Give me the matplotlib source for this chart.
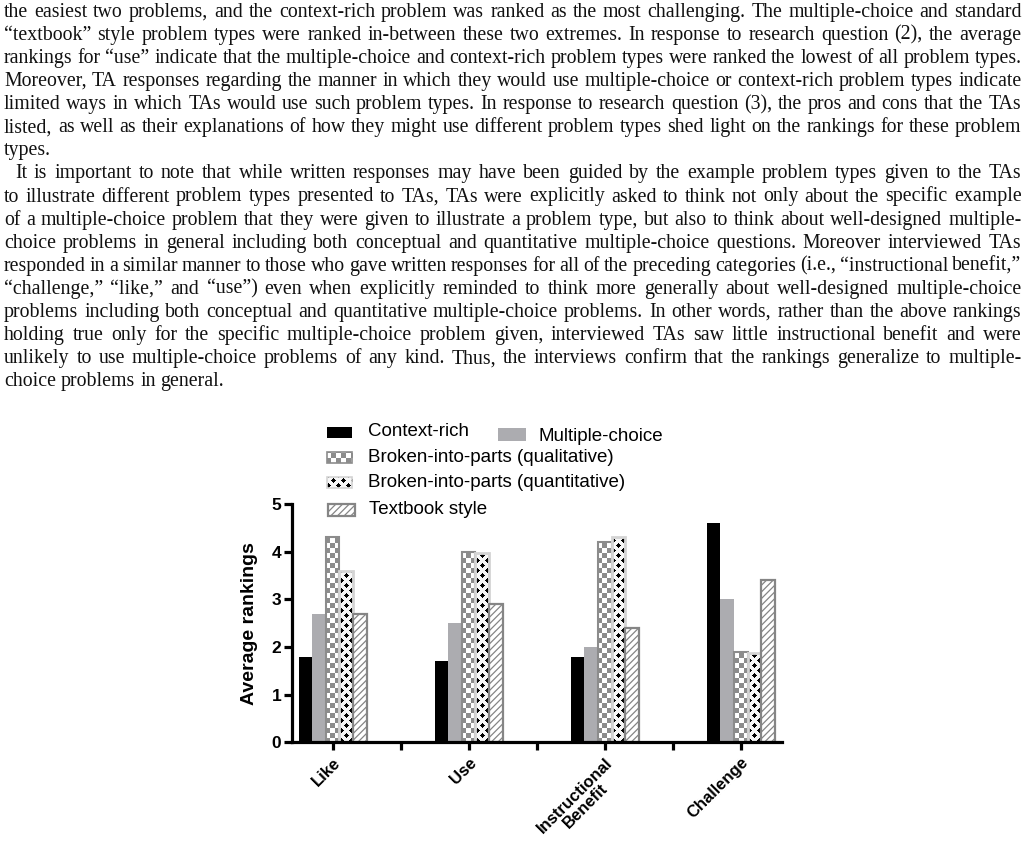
import numpy as np
import matplotlib
matplotlib.use('Agg')
import matplotlib.pyplot as plt
from matplotlib.patches import Rectangle

# chart data
categories = ['Like', 'Use', 'Instructional\nBenefit', 'Challenge']
context_rich = [1.8, 1.7, 1.8, 4.6]
multiple_choice = [2.7, 2.5, 2.0, 3.0]
broken_qual = [4.3, 4.0, 4.2, 1.9]
broken_quant = [3.6, 3.97, 4.3, 1.88]
textbook = [2.7, 2.9, 2.4, 3.4]
series_names = ['Context-rich', 'Multiple-choice', 'Broken-into-parts (qualitative)',
                'Broken-into-parts (quantitative)', 'Textbook style']
yticks = [0, 1, 2, 3, 4, 5]

# page text above the figure
body_lines = [
    "the easiest two problems, and the context-rich problem was ranked as the most challenging. The multiple-choice and standard",
    "\u201ctextbook\u201d style problem types were ranked in-between these two extremes. In response to research question (2), the average",
    "rankings for \u201cuse\u201d indicate that the multiple-choice and context-rich problem types were ranked the lowest of all problem types.",
    "Moreover, TA responses regarding the manner in which they would use multiple-choice or context-rich problem types indicate",
    "limited ways in which TAs would use such problem types. In response to research question (3), the pros and cons that the TAs",
    "listed, as well as their explanations of how they might use different problem types shed light on the rankings for these problem",
    "types.",
    "It is important to note that while written responses may have been guided by the example problem types given to the TAs",
    "to illustrate different problem types presented to TAs, TAs were explicitly asked to think not only about the specific example",
    "of a multiple-choice problem that they were given to illustrate a problem type, but also to think about well-designed multiple-",
    "choice problems in general including both conceptual and quantitative multiple-choice questions. Moreover interviewed TAs",
    "responded in a similar manner to those who gave written responses for all of the preceding categories (i.e., \u201cinstructional benefit,\u201d",
    "\u201cchallenge,\u201d \u201clike,\u201d and \u201cuse\u201d) even when explicitly reminded to think more generally about well-designed multiple-choice",
    "problems including both conceptual and quantitative multiple-choice problems. In other words, rather than the above rankings",
    "holding true only for the specific multiple-choice problem given, interviewed TAs saw little instructional benefit and were",
    "unlikely to use multiple-choice problems of any kind. Thus, the interviews confirm that the rankings generalize to multiple-",
    "choice problems in general.",
]
para_start = [7]
para_end = [6, 16]

FW, FH = 1029, 846
fig = plt.figure(figsize=(FW / 100, FH / 100), dpi=100)
renderer = fig.canvas.get_renderer()

# pick the body font size so a normally spaced line fills the text width
probe = fig.text(0, 0, body_lines[2], fontsize=12, family='Liberation Serif')
nat = probe.get_window_extent(renderer).width
probe.remove()
fs_body = 12 * 1014 / nat

# justified body text
for i, line in enumerate(body_lines):
    yb = 16.7 + i * 23.1
    x0 = 4 + (11 if i in para_start else 0)
    words = line.split()
    arts = [fig.text(0, 1 - yb / FH, w, fontsize=fs_body, family='Liberation Serif',
                     va='baseline', color='#111111') for w in words]
    widths = [a.get_window_extent(renderer).width for a in arts]
    if i in para_end or len(words) == 1:
        gap = 0.25 * fs_body * 100 / 72
    else:
        gap = (1021.5 - x0 - sum(widths)) / (len(words) - 1)
    xx = x0
    for a, w in zip(arts, widths):
        a.set_x(xx / FW)
        xx += w + gap

# pattern tiles
checker = np.ones((10, 10, 3))
checker[:5, :5] = 0.55
checker[5:, 5:] = 0.55

dots = np.ones((10, 10, 3)) * 0.97
yy, xx_ = np.mgrid[0:10, 0:10]
for cx, cy in [(2, 2), (7, 7)]:
    dots[(np.abs(xx_ - cx) + np.abs(yy - cy)) <= 2] = 0.0


def fill_with_tile(patch, tile):
    bb = patch.get_window_extent(renderer)
    x0, y0 = int(np.floor(bb.x0)), int(np.floor(bb.y0))
    w = int(np.ceil(bb.x1)) - x0 + 1
    h = int(np.ceil(bb.y1)) - y0 + 1
    reps = (h // tile.shape[0] + 2, w // tile.shape[1] + 2, 1)
    img = np.tile(tile, reps)[:h, :w]
    im = fig.figimage(img, xo=x0, yo=y0, origin='lower', zorder=-1)
    im.set_clip_path(patch)


# axes
ax = fig.add_axes([291.7 / FW, 103.7 / FH, 490 / FW, 238.3 / FH])
ax.patch.set_visible(False)
ax.set_xlim(-0.3, 3.3)
ax.set_ylim(0, 5)

plt.rcParams['hatch.linewidth'] = 0.9
x = np.arange(len(categories))
bw = 0.1
ax.bar(x - 2 * bw, context_rich, bw, color='black')
ax.bar(x - bw, multiple_choice, bw, color='#acacb0')
b_qual = ax.bar(x, broken_qual, bw, facecolor='none', edgecolor='#8c8c8c', linewidth=1.5)
b_quant = ax.bar(x + bw, broken_quant, bw, facecolor='none', edgecolor='#d4d4d4', linewidth=2)
ax.bar(x + 2 * bw, textbook, bw, facecolor='white', edgecolor='#858585', hatch='/////', linewidth=1.6)

for p in b_qual.patches:
    fill_with_tile(p, checker)
for p in b_quant.patches:
    fill_with_tile(p, dots)

ax.spines['top'].set_visible(False)
ax.spines['right'].set_visible(False)
ax.spines['left'].set_linewidth(2.3)
ax.spines['bottom'].set_linewidth(2.3)
ax.set_yticks(yticks)
ax.set_yticklabels([str(v) for v in yticks], fontweight='bold', fontsize=12.5, family='Liberation Sans')
ax.set_xticks(x)
ax.set_xticks(x[:-1] + 0.5, minor=True)
ax.tick_params(axis='both', which='both', direction='out', length=6, width=2.3, pad=1.5)
ax.tick_params(axis='x', which='major', pad=3)
labs = ax.set_xticklabels(categories, rotation=45, ha='right', rotation_mode='anchor',
                          fontweight='bold', fontsize=12, family='Liberation Sans')
for lb in labs:
    lb.set_multialignment('center')
    lb.set_linespacing(1.0)
ax.set_ylabel('Average rankings', fontweight='bold', fontsize=14, family='Liberation Sans')
ax.yaxis.set_label_coords(-0.069, 0.5)

# legend (manual layout like the original)
def px(xp, yp):
    return xp / FW, 1 - yp / FH


def swatch(cx, cy, w, h, **kw):
    r = Rectangle(px(cx - w / 2, cy + h / 2), w / FW, h / FH, transform=fig.transFigure, **kw)
    fig.add_artist(r)
    return r


swatch(339, 432, 25, 11, facecolor='black', edgecolor='none')
swatch(512, 435, 28, 13, facecolor='#acacb0', edgecolor='none')
r = swatch(339, 457, 25, 11, facecolor='none', edgecolor='#8c8c8c', linewidth=1.2)
fill_with_tile(r, checker)
r = swatch(339, 482, 25, 11, facecolor='none', edgecolor='#d4d4d4', linewidth=1.2)
fill_with_tile(r, dots)
swatch(341, 510, 27, 12, facecolor='white', edgecolor='#858585', hatch='/////', linewidth=1.6)

leg_pos = [(368, 432), (538, 436), (368, 457), (368, 482), (369, 510)]
for name, (lx, ly) in zip(series_names, leg_pos):
    fig.text(*px(lx, ly), name, fontsize=13.5, family='Liberation Sans', va='center', ha='left')

fig.savefig('out.png', dpi=100)
